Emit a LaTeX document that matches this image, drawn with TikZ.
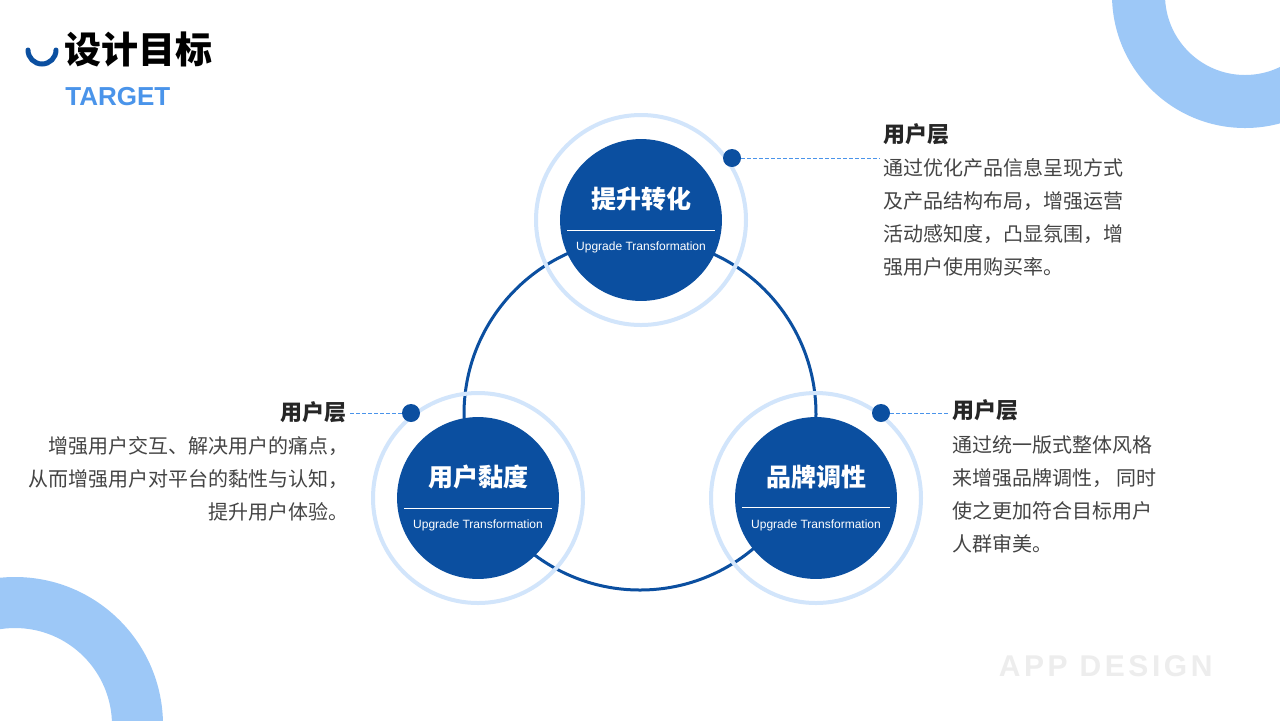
\documentclass[tikz,border=0pt]{standalone}
\usepackage{fontspec}
\setmainfont{Noto Sans CJK SC}
\newfontfamily\latinsans{Liberation Sans}
\newfontfamily\widesans[LetterSpace=12]{Liberation Sans}
\usetikzlibrary{positioning}
\definecolor{deepblue}{HTML}{0B4FA0}
\definecolor{paleblue}{HTML}{D2E5FB}
\definecolor{lightblue}{HTML}{9DC8F7}
\definecolor{tagblue}{HTML}{4A94EA}
\definecolor{bodygray}{HTML}{444444}
\tikzset{
  hub/.style={circle, fill=deepblue, minimum size=78pt, inner sep=0pt},
  halo/.style={circle, draw=paleblue, line width=2pt, minimum size=105pt, inner sep=0pt},
  dot/.style={circle, fill=deepblue, minimum size=9pt, inner sep=0pt},
  head/.style={font=\fontsize{11}{13}\selectfont\bfseries, text=black!85, inner sep=0pt},
  body/.style={font=\fontsize{10}{16.5}\selectfont, text=bodygray, inner sep=0pt},
  lead/.style={draw=tagblue, dash pattern=on 2pt off 1pt, line width=0.4pt}
}
\newcommand{\hubtext}[1]{{\fontsize{12.5}{15}\selectfont\bfseries #1}\\[-1pt]
  \rule{74pt}{0.5pt}\\[-2pt] {\fontsize{6}{8}\selectfont\latinsans Upgrade Transformation}}
\begin{document}
\begin{tikzpicture}[x=0.5pt, y=-0.5pt]
\useasboundingbox (0,0) rectangle (1280,720);
\fill[white] (0,0) rectangle (1280,720);

% corner rings
\begin{scope}
\clip (0,0) rectangle (1280,720);
\fill[lightblue, even odd rule] (1245,-5) circle (133) (1245,-5) circle (80);
\fill[lightblue, even odd rule] (15,725) circle (148) (15,725) circle (97);
\end{scope}

% heading
\draw[deepblue, line width=2.5pt, line cap=round] (28,50) arc (180:0:14);
\node[anchor=west, inner sep=0pt, font=\fontsize{18.5}{22}\selectfont\bfseries] (title) at (64,50) {设计目标};
\node[anchor=west, inner sep=0pt, text=tagblue, font=\fontsize{13}{15}\selectfont\latinsans\bfseries] (tag) at (65,97) {TARGET};
\node[anchor=east, inner sep=0pt, text=black!7, font=\fontsize{15}{18}\selectfont\widesans\bfseries] (app) at (1213,666) {APP DESIGN};

% ring
\draw[deepblue, line width=1.5pt] (640,414) circle (176);

% hubs
\node[halo] (h1) at (641,220) {};
\node[halo] (h2) at (478,498) {};
\node[halo] (h3) at (816,498) {};
\node[hub, text=white, align=center] (c1) at (641,220) {\hubtext{提升转化}};
\node[hub, text=white, align=center] (c2) at (478,498) {\hubtext{用户黏度}};
\node[hub, text=white, align=center] (c3) at (816,498) {\hubtext{品牌调性}};

% callouts
\node[dot] (d1) at (732,158) {};
\node[dot] (d2) at (411,413) {};
\node[dot] (d3) at (881,413) {};
\coordinate (e1) at (880,158);
\coordinate (e2) at (348,413);
\coordinate (e3) at (950,413);
\draw[lead] (d1) -- (e1);
\draw[lead] (d2) -- (e2);
\draw[lead] (d3) -- (e3);

\node[head, anchor=west] (t1) at (883,134) {用户层};
\node[body, anchor=north west, align=left] (b1) at (883,158) {通过优化产品信息呈现方式\\及产品结构布局，增强运营\\活动感知度，凸显氛围，增\\强用户使用购买率。};
\node[head, anchor=east] (t2) at (347,412) {用户层};
\node[body, anchor=north east, align=right] (b2) at (349,436) {增强用户交互、解决用户的痛点，\\从而增强用户对平台的黏性与认知，\\提升用户体验。};
\node[head, anchor=west] (t3) at (952,410) {用户层};
\node[body, anchor=north west, align=left] (b3) at (952,435) {通过统一版式整体风格\\来增强品牌调性， 同时\\使之更加符合目标用户\\人群审美。};
\end{tikzpicture}
\end{document}
